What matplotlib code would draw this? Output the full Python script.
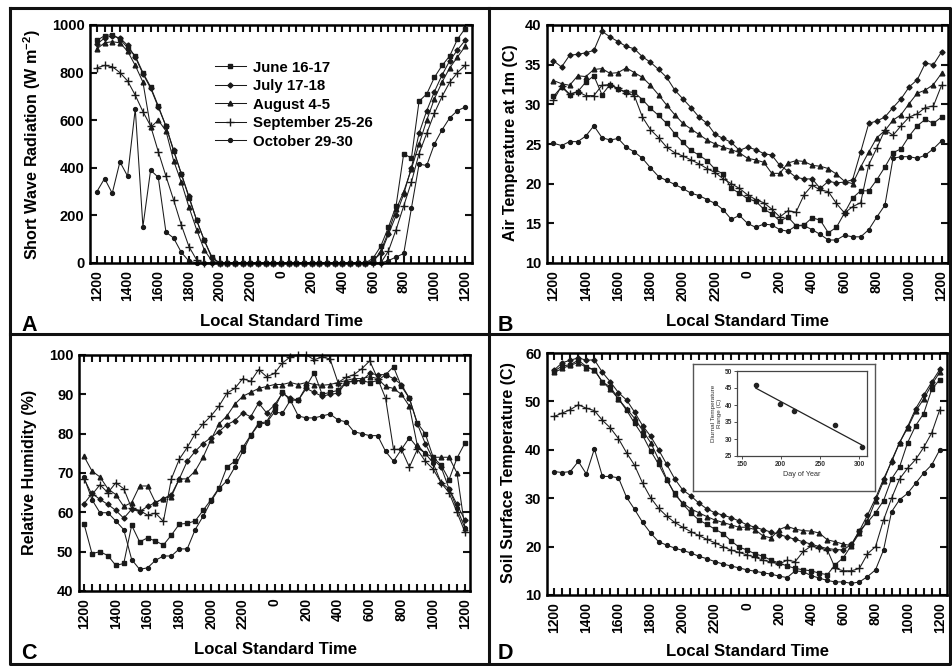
import numpy as np
import matplotlib
matplotlib.use('Agg')
import matplotlib.pyplot as plt
from matplotlib.lines import Line2D

plt.rcParams['font.family'] = ['Liberation Sans', 'DejaVu Sans']
plt.rcParams['font.weight'] = 'bold'
plt.rcParams['mathtext.fontset'] = 'custom'
plt.rcParams['mathtext.rm'] = 'Liberation Sans:bold'
plt.rcParams['mathtext.default'] = 'rm'

# half-hourly readings, noon to noon
hours = np.arange(49) * 0.5
label_hours = [0, 2, 4, 6, 8, 10, 12, 14, 16, 18, 20, 22, 24]
tick_labels = ['1200', '1400', '1600', '1800', '2000', '2200', '0',
               '200', '400', '600', '800', '1000', '1200']
periods = ['June 16-17', 'July 17-18', 'August 4-5', 'September 25-26', 'October 29-30']

# A: short wave radiation (W m-2)
swr_jun = [935, 955, 960, 940, 905, 870, 800, 740, 660, 575, 470, 375, 275, 180, 95, 25,
           0, 0, 0, 0, 0, 0, 0, 0, 0, 0, 0, 0, 0, 0, 0, 0, 0, 0, 0, 0,
           20, 70, 150, 240, 460, 440, 680, 710, 780, 830, 870, 940, 985]
swr_jul = [920, 945, 955, 945, 915, 865, 795, 735, 655, 575, 475, 375, 280, 180, 95, 20,
           0, 0, 0, 0, 0, 0, 0, 0, 0, 0, 0, 0, 0, 0, 0, 0, 0, 0, 0, 0,
           10, 40, 120, 200, 290, 400, 545, 640, 720, 790, 850, 895, 935]
swr_aug = [900, 925, 930, 925, 890, 830, 760, 570, 600, 555, 430, 340, 235, 140, 55, 8,
           0, 0, 0, 0, 0, 0, 0, 0, 0, 0, 0, 0, 0, 0, 0, 0, 0, 0, 0, 0,
           5, 50, 130, 225, 300, 395, 500, 600, 690, 760, 820, 865, 910]
swr_sep = [820, 830, 825, 800, 765, 705, 636, 576, 468, 365, 265, 160, 69, 13, 0, 0,
           0, 0, 0, 0, 0, 0, 0, 0, 0, 0, 0, 0, 0, 0, 0, 0, 0, 0, 0, 0,
           0, 0, 50, 140, 240, 340, 460, 545, 630, 700, 760, 800, 830]
swr_oct = [300, 355, 293, 425, 365, 648, 153, 390, 360, 130, 105, 45, 8, 0, 0, 0,
           0, 0, 0, 0, 0, 0, 0, 0, 0, 0, 0, 0, 0, 0, 0, 0, 0, 0, 0, 0,
           0, 0, 10, 25, 40, 230, 415, 410, 500, 560, 610, 640, 655]

# B: air temperature at 1 m (C)
air_jun = [31.0, 32.2, 31.2, 31.6, 32.8, 33.6, 31.2, 32.5, 31.9, 31.6, 31.5, 30.6, 29.5, 28.6, 27.6, 26.3,
           25.2, 24.2, 23.6, 22.9, 21.8, 21.2, 19.4, 18.8, 18.1, 17.8, 16.8, 16.2, 15.3, 15.8, 14.7, 14.8,
           15.7, 15.4, 13.8, 14.5, 16.3, 18.2, 19.1, 19.1, 20.5, 22.1, 23.9, 24.4, 26.0, 27.3, 28.1, 27.6, 28.4]
air_jul = [35.5, 34.7, 36.2, 36.3, 36.5, 36.8, 39.2, 38.5, 37.9, 37.3, 37.0, 36.0, 35.3, 34.4, 33.4, 31.8,
           30.7, 29.6, 28.4, 27.6, 26.2, 25.7, 25.2, 24.2, 24.6, 24.3, 23.8, 23.6, 22.3, 21.6, 20.8, 20.6,
           20.6, 19.4, 20.3, 20.1, 20.2, 20.5, 24.0, 27.6, 27.9, 28.4, 29.6, 30.7, 32.2, 33.1, 35.2, 35.0, 36.6]
air_aug = [33.0, 32.6, 32.4, 33.6, 33.5, 34.4, 34.5, 33.9, 34.0, 34.6, 34.0, 33.4, 32.4, 31.2, 29.9, 28.7,
           27.6, 26.9, 26.2, 25.5, 25.0, 24.6, 24.3, 23.9, 23.2, 23.0, 22.7, 21.3, 21.3, 22.6, 22.9, 22.8,
           22.3, 22.2, 21.9, 21.2, 20.3, 20.0, 22.1, 24.0, 25.8, 26.7, 28.0, 28.7, 30.1, 31.4, 31.8, 32.5, 33.9]
air_sep = [30.5, 32.3, 31.3, 31.6, 31.1, 31.1, 32.4, 32.5, 32.0, 31.4, 31.1, 28.4, 26.8, 25.8, 24.6, 23.9,
           23.5, 23.0, 22.5, 21.9, 21.4, 20.6, 20.0, 19.4, 18.6, 18.0, 17.6, 16.8, 15.8, 16.6, 16.4, 18.6,
           19.8, 19.2, 19.0, 17.5, 16.3, 17.1, 17.6, 22.4, 24.5, 26.8, 26.1, 27.3, 28.4, 28.8, 29.6, 29.8, 32.4]
air_oct = [25.1, 24.8, 25.3, 25.3, 26.0, 27.3, 25.8, 25.5, 25.7, 24.6, 24.0, 23.2, 22.0, 20.9, 20.4, 19.9,
           19.4, 18.8, 18.5, 18.0, 17.5, 16.7, 15.5, 16.0, 15.0, 14.5, 14.9, 14.8, 14.2, 14.0, 14.7, 14.7,
           14.2, 13.6, 12.9, 12.9, 13.5, 13.3, 13.3, 14.2, 15.8, 17.3, 23.2, 23.4, 23.4, 23.2, 23.6, 24.4, 25.4]

# C: relative humidity (%)
rh_jun = [57.0, 49.5, 50.0, 49.0, 46.5, 47.0, 56.7, 52.5, 53.5, 52.7, 51.7, 54.2, 57.0, 57.2, 57.8, 60.5,
          63.2, 66.2, 71.5, 73.0, 76.5, 79.6, 82.7, 83.0, 86.5, 90.5, 88.5, 88.5, 92.0, 95.5, 90.0, 90.5,
          91.0, 93.0, 93.5, 93.5, 93.0, 93.5, 95.0, 97.0, 92.0, 89.0, 82.7, 80.0, 74.0, 72.0, 68.3, 73.8, 77.6]
rh_jul = [62.2, 64.8, 63.3, 62.0, 60.5, 58.5, 60.8, 60.2, 61.5, 62.5, 63.5, 64.5, 68.5, 73.0, 75.5, 77.5,
          79.0, 80.5, 82.3, 83.3, 85.3, 84.3, 87.8, 85.3, 87.3, 90.3, 89.0, 88.5, 91.5, 90.5, 89.5, 90.0,
          90.3, 93.0, 93.3, 93.5, 95.3, 95.0, 95.0, 94.0, 92.5, 89.0, 82.5, 77.5, 73.5, 71.5, 66.0, 62.0, 58.0]
rh_aug = [74.2, 70.5, 69.0, 66.0, 64.5, 61.5, 62.5, 66.7, 66.7, 62.5, 63.5, 64.0, 68.5, 68.5, 70.5, 74.0,
          78.5, 82.5, 84.5, 87.5, 89.5, 90.5, 91.5, 92.0, 92.5, 92.5, 93.0, 92.5, 93.0, 92.5, 92.3, 92.5,
          93.0, 93.5, 94.0, 94.0, 94.5, 94.0, 92.0, 91.5, 90.0, 87.0, 77.0, 75.0, 74.0, 74.0, 74.0, 70.0, 56.0]
rh_sep = [68.5, 64.5, 67.0, 65.0, 67.5, 66.0, 61.0, 60.5, 59.3, 59.8, 57.7, 68.5, 73.5, 76.5, 80.0, 82.5,
          84.5, 87.0, 90.3, 91.5, 94.0, 93.3, 96.3, 94.5, 95.3, 98.0, 99.5, 100.0, 100.0, 98.8, 99.5, 99.0,
          93.0, 94.3, 95.0, 96.5, 98.5, 94.0, 89.0, 76.0, 76.0, 71.5, 76.0, 73.0, 71.0, 67.5, 65.0, 60.0, 55.0]
rh_oct = [68.9, 63.2, 59.9, 59.9, 57.8, 55.6, 48.0, 45.5, 45.9, 47.8, 48.9, 48.9, 50.7, 50.7, 55.6, 59.0,
          62.8, 66.0, 68.0, 71.5, 75.5, 79.5, 82.3, 82.8, 85.5, 85.2, 88.5, 84.5, 84.0, 84.0, 84.5, 85.0,
          83.5, 83.0, 80.5, 80.0, 79.5, 79.5, 75.5, 73.0, 76.0, 79.0, 76.5, 75.0, 72.5, 67.5, 66.0, 61.0, 56.0]

# D: soil surface temperature (C)
soil_jun = [56.3, 57.3, 57.6, 58.5, 57.2, 56.5, 54.0, 53.0, 50.5, 48.2, 45.5, 43.0, 39.8, 37.0, 33.8, 31.0,
            28.8, 27.0, 25.5, 24.6, 23.6, 22.7, 21.2, 19.9, 19.3, 18.5, 18.0, 17.2, 16.6, 16.0, 15.5, 15.2,
            15.0, 14.5, 14.2, 16.3, 17.7, 20.3, 23.3, 25.0, 27.0, 29.5, 34.0, 36.5, 41.5, 45.0, 47.5, 52.5, 54.5]
soil_jul = [56.5, 58.0, 58.5, 59.0, 58.5, 58.6, 56.0, 54.0, 51.8, 50.3, 47.8, 45.0, 42.8, 40.0, 37.0, 34.0,
            31.7, 30.5, 29.0, 27.8, 27.0, 26.5, 26.0, 25.3, 24.5, 24.0, 23.5, 23.0, 22.5, 22.0, 21.5, 21.0,
            20.5, 20.0, 19.6, 19.4, 19.3, 20.5, 23.3, 26.5, 30.0, 34.0, 37.5, 41.5, 44.8, 48.5, 51.3, 54.0, 56.6]
soil_aug = [56.0, 56.8, 57.5, 58.0, 57.0, 56.5, 54.0, 52.5, 50.5, 48.5, 46.5, 44.0, 41.5, 38.0, 34.0, 30.8,
            29.0, 27.8, 27.0, 26.2, 25.5, 25.0, 24.5, 24.0, 24.0, 23.5, 22.2, 21.8, 23.5, 24.2, 23.6, 23.3,
            23.2, 22.8, 21.4, 21.0, 20.5, 20.2, 22.8, 25.3, 29.5, 33.5, 37.8, 41.5, 44.5, 48.0, 50.5, 53.5, 56.0]
soil_sep = [46.9, 47.6, 48.3, 49.3, 48.6, 48.1, 46.1, 44.5, 42.3, 39.4, 36.8, 33.1, 30.1, 27.9, 26.3, 25.0,
            24.0, 23.1, 22.3, 21.5, 20.8, 20.0, 19.3, 18.8, 18.3, 17.8, 17.2, 16.8, 16.4, 17.2, 16.9, 19.0,
            20.1, 19.7, 19.3, 15.5, 15.0, 15.0, 15.5, 18.5, 20.0, 25.5, 30.0, 34.0, 36.2, 38.0, 40.5, 43.5, 48.3]
soil_oct = [35.5, 35.3, 35.5, 37.6, 35.0, 40.2, 34.5, 34.5, 34.2, 30.2, 27.7, 25.0, 22.8, 21.0, 20.3, 19.7,
            19.2, 18.7, 18.0, 17.5, 16.9, 16.4, 16.0, 15.6, 15.2, 14.9, 14.6, 14.3, 13.9, 13.6, 15.0, 14.8,
            14.0, 13.5, 13.0, 12.7, 12.7, 12.4, 12.7, 13.8, 15.2, 19.3, 27.2, 29.7, 31.0, 33.1, 35.2, 36.9, 40.0]

# inset: diurnal temperature range vs day of year
doy = [168, 199, 217, 269, 303]
dtr = [45.8, 40.2, 38.1, 34.1, 27.6]

markers = ['s', 'D', '^', '+', 'o']
msizes = [3.3, 2.6, 3.4, 5.5, 2.8]
W, H = 952, 666


def box(x0, y0, x1, y1):
    # pixel box (top-left origin) -> figure fraction rect
    return [x0 / W, 1 - y1 / H, (x1 - x0) / W, (y1 - y0) / H]


def draw_panel(ax, series, ylim, yticks, pad, clip=True):
    for vals, m, ms in zip(series, markers, msizes):
        ax.plot(hours, vals, color='#1a1a1a', lw=0.75, marker=m, ms=ms,
                mew=1.0, mfc='#1a1a1a', mec='#1a1a1a', clip_on=clip)
    ax.set_xlim(-pad, 24 + pad)
    ax.set_ylim(*ylim)
    ax.set_xticks(label_hours)
    ax.set_xticklabels(tick_labels, rotation=90, fontsize=10, fontweight='bold')
    ax.set_xticks(hours, minor=True)
    ax.set_yticks(yticks)
    ax.set_yticklabels([str(v) for v in yticks], fontsize=10.5, fontweight='bold')
    ax.tick_params(which='both', direction='in', top=True, right=True,
                   length=5, width=1.5, color='#111')
    ax.tick_params(axis='x', pad=5)
    ax.tick_params(axis='y', pad=4)
    for s in ax.spines.values():
        s.set_linewidth(1.8)


fig = plt.figure(figsize=(9.52, 6.66), dpi=100)

axA = fig.add_axes(box(90, 25, 472, 263))
axB = fig.add_axes(box(547, 25, 948, 263))
axC = fig.add_axes(box(79, 355, 470, 591))
axD = fig.add_axes(box(547, 353, 947, 595))

draw_panel(axA, [swr_jun, swr_jul, swr_aug, swr_sep, swr_oct], (0, 1000),
           [0, 200, 400, 600, 800, 1000], 0.45, clip=False)
draw_panel(axB, [air_jun, air_jul, air_aug, air_sep, air_oct], (10, 40),
           [10, 15, 20, 25, 30, 35, 40], 0.4)
draw_panel(axC, [rh_jun, rh_jul, rh_aug, rh_sep, rh_oct], (40, 100),
           [40, 50, 60, 70, 80, 90, 100], 0.32, clip=False)
draw_panel(axD, [soil_jun, soil_jul, soil_aug, soil_sep, soil_oct], (10, 60),
           [10, 20, 30, 40, 50, 60], 0.45)

axA.legend(axA.lines, periods, loc='upper left', bbox_to_anchor=(207 / W, 1 - 53 / H),
           bbox_transform=fig.transFigure, frameon=False,
           labelspacing=0.3, handlelength=2.1, handletextpad=0.45, borderpad=0,
           prop={'weight': 'bold', 'size': 10.8})

# axis titles
ylabels = ['Short Wave Radiation (W m$^{-2}$)', 'Air Temperature at 1m (C)',
           'Relative Humidity (%)', 'Soil Surface Temperature (C)']
ylab_pos = [(32, 145), (511, 143), (30, 472), (508, 473)]
xlab_pos = [(281, 322), (747, 322), (275, 650), (748, 651)]
for lab, (x, y) in zip(ylabels, ylab_pos):
    fig.text(x / W, 1 - y / H, lab, rotation=90, ha='center', va='center',
             fontsize=11.6, fontweight='bold')
for x, y in xlab_pos:
    fig.text(x / W, 1 - y / H, 'Local Standard Time', ha='center', va='center',
             fontsize=12, fontweight='bold')

for letter, (x, y) in zip('ABCD', [(21, 331), (498, 331), (21, 659), (498, 659)]):
    fig.text(x / W, 1 - y / H, letter, ha='left', va='baseline',
             fontsize=15.5, fontweight='bold')

# panel frames
frame_kw = dict(color='#111', lw=2.2, transform=fig.transFigure)
fig.add_artist(Line2D([10 / W, 950 / W, 950 / W, 10 / W, 10 / W],
                      [1 - 8 / H, 1 - 8 / H, 1 - 664 / H, 1 - 664 / H, 1 - 8 / H], **frame_kw))
fig.add_artist(Line2D([489 / W, 489 / W], [1 - 8 / H, 1 - 664 / H], **frame_kw))
fig.add_artist(Line2D([10 / W, 950 / W], [1 - 334 / H, 1 - 334 / H], **frame_kw))

# inset in panel D
frame = fig.add_axes(box(693, 364, 875, 491))
frame.set_xticks([])
frame.set_yticks([])
frame.set_facecolor('white')
for s in frame.spines.values():
    s.set_linewidth(1.0)
    s.set_color('#555')

axI = fig.add_axes(box(737, 371, 867, 456))
axI.plot(doy, dtr, 'o', color='#222', ms=3)
slope, icpt = np.polyfit(doy, dtr, 1)
fit_x = np.array([doy[0], doy[-1]])
axI.plot(fit_x, slope * fit_x + icpt, color='#222', lw=0.9)
axI.set_xlim(144, 310)
axI.set_ylim(25, 50)
axI.set_xticks([150, 200, 250, 300])
axI.set_yticks([25, 30, 35, 40, 45, 50])
axI.tick_params(labelsize=4.8, length=2, width=0.6, pad=1.5, colors='#333')
for s in axI.spines.values():
    s.set_linewidth(0.9)
    s.set_color('#444')
axI.set_xlabel('Day of Year', fontsize=5.2, labelpad=2, color='#333')
axI.set_ylabel('Diurnal Temperature\nRange (C)', fontsize=4.6, labelpad=2, color='#333')

fig.savefig('out.png', dpi=100)
